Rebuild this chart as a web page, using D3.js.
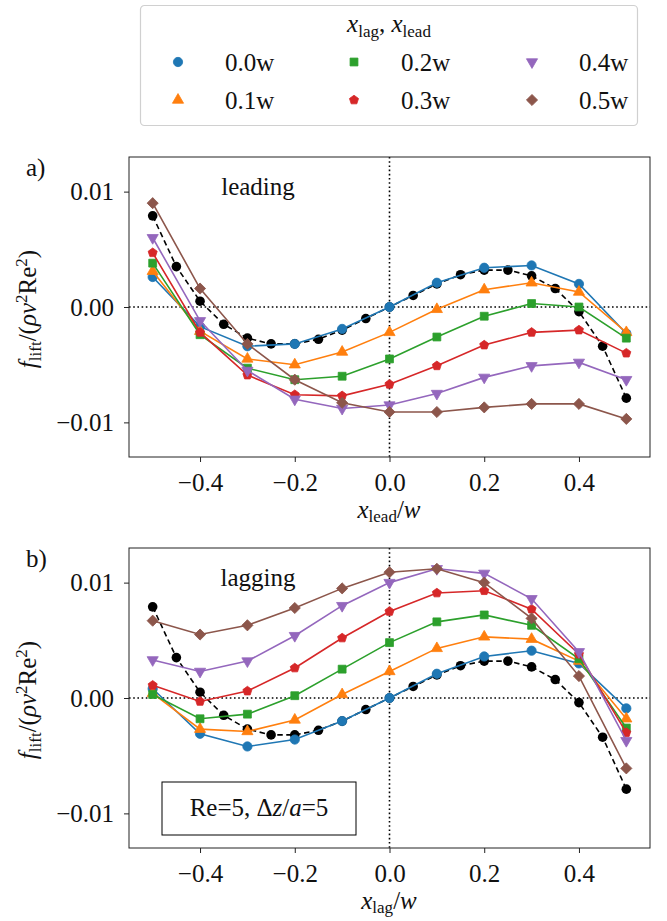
<!DOCTYPE html>
<html><head><meta charset="utf-8">
<script src="https://cdn.jsdelivr.net/npm/d3@7"></script>
<style>
body{margin:0;background:#fff}
svg{display:block}
svg text{font-family:"Liberation Serif","Times New Roman",serif !important;fill:#111}
</style>
</head><body>
<svg id="c" width="667" height="921"></svg>
<script>
// ---------- data ----------
const xPositions = [-0.5,-0.4,-0.3,-0.2,-0.1,0.0,0.1,0.2,0.3,0.4,0.5];
const refX = [-0.5,-0.45,-0.4,-0.35,-0.3,-0.25,-0.2,-0.15,-0.1,-0.05,0,0.05,0.1,0.15,0.2,0.25,0.3,0.35,0.4,0.45,0.5];
const refValues = [0.0079,0.0035,0.0005,-0.0015,-0.0027,-0.0032,-0.0032,-0.0028,-0.0020,-0.0010,0.0,0.0010,0.0020,0.0028,0.0032,0.0032,0.0027,0.0016,-0.0004,-0.0034,-0.0079];

const seriesLabels = ["0.0w","0.1w","0.2w","0.3w","0.4w","0.5w"];
const seriesColors = ["#1f77b4","#ff7f0e","#2ca02c","#d62728","#9467bd","#8c564b"];
const seriesMarkers = ["circle","triangleUp","square","pentagon","triangleDown","diamond"];

// panel a) leading
const lead00 = [0.0026,-0.0017,-0.0034,-0.0032,-0.0019,0.0,0.0021,0.0034,0.0036,0.0020,-0.0023];
const lead01 = [0.0031,-0.0021,-0.0045,-0.0050,-0.0039,-0.0022,-0.0002,0.0015,0.0021,0.0013,-0.0022];
const lead02 = [0.0038,-0.0024,-0.0053,-0.0063,-0.0060,-0.0045,-0.0026,-0.0008,0.0003,0.0000,-0.0027];
const lead03 = [0.0047,-0.0022,-0.0059,-0.0076,-0.0077,-0.0067,-0.0051,-0.0033,-0.0022,-0.0020,-0.0040];
const lead04 = [0.0060,-0.0012,-0.0055,-0.0080,-0.0088,-0.0085,-0.0075,-0.0061,-0.0051,-0.0048,-0.0063];
const lead05 = [0.0090,0.0016,-0.0032,-0.0063,-0.0083,-0.0091,-0.0091,-0.0087,-0.0084,-0.0084,-0.0097];

// panel b) lagging
const lag00 = [0.0008,-0.0031,-0.0042,-0.0036,-0.0020,0.0,0.0021,0.0036,0.0041,0.0030,-0.0009];
const lag01 = [0.0004,-0.0027,-0.0029,-0.0019,0.0003,0.0023,0.0043,0.0053,0.0051,0.0032,-0.0018];
const lag02 = [0.0003,-0.0018,-0.0014,0.0002,0.0025,0.0048,0.0066,0.0072,0.0063,0.0034,-0.0026];
const lag03 = [0.0011,-0.0003,0.0006,0.0026,0.0052,0.0075,0.0091,0.0093,0.0077,0.0038,-0.0030];
const lag04 = [0.0033,0.0023,0.0032,0.0054,0.0080,0.0100,0.0112,0.0108,0.0086,0.0040,-0.0037];
const lag05 = [0.0067,0.0055,0.0063,0.0078,0.0095,0.0109,0.0112,0.0100,0.0069,0.0019,-0.0061];

const xTicks = [-0.4,-0.2,0.0,0.2,0.4];
const xTickLabels = ["\u22120.4","\u22120.2","0.0","0.2","0.4"];
const yTicks = [-0.01,0.0,0.01];
const yTickLabels = ["\u22120.01","0.00","0.01"];

// ---------- drawing ----------
const svg = d3.select("#c");
const FS = 25;
const SUB = 17;
const SERIF = '"Liberation Serif","Times New Roman",serif';

const pentagon = {draw(ctx,size){const r=Math.sqrt(size/2.378);for(let k=0;k<5;k++){const a=-Math.PI/2+k*2*Math.PI/5;const x=r*Math.cos(a),y=r*Math.sin(a);k?ctx.lineTo(x,y):ctx.moveTo(x,y);}ctx.closePath();}};
const markerDefs = {
  circle:{type:d3.symbolCircle,size:68,rot:0},
  triangleUp:{type:d3.symbolTriangle,size:54,rot:0},
  square:{type:d3.symbolSquare,size:62,rot:0},
  pentagon:{type:pentagon,size:54,rot:0},
  triangleDown:{type:d3.symbolTriangle,size:54,rot:180},
  diamond:{type:d3.symbolSquare,size:62,rot:45}
};
function drawMarker(g,name,x,y,color){
  const m = markerDefs[name];
  g.append("path").attr("d",d3.symbol().type(m.type).size(m.size)())
   .attr("transform",`translate(${x},${y}) rotate(${m.rot})`)
   .attr("fill",color).attr("stroke",color).attr("stroke-width",0.8);
}
function txt(sel){return sel.style("font-family",SERIF);}

function panel(top, seriesList, label, annot, xname){
  const left=129,right=650,bottom=top+300;
  const x = d3.scaleLinear().domain([-0.55,0.55]).range([left,right]);
  const y = d3.scaleLinear().domain([-0.013,0.013]).range([bottom,top]);
  const g = svg.append("g");

  // zero lines
  g.append("line").attr("x1",left).attr("x2",right).attr("y1",y(0)).attr("y2",y(0))
    .attr("stroke","#000").attr("stroke-width",1.6).attr("stroke-dasharray","1.6,2.6");
  g.append("line").attr("x1",x(0)).attr("x2",x(0)).attr("y1",top).attr("y2",bottom)
    .attr("stroke","#000").attr("stroke-width",1.6).attr("stroke-dasharray","1.6,2.6");

  // reference black dashed
  const line = d3.line().x(d=>x(d[0])).y(d=>y(d[1]));
  const refPts = refX.map((v,i)=>[v,refValues[i]]);
  g.append("path").attr("d",line(refPts)).attr("fill","none").attr("stroke","#000")
    .attr("stroke-width",1.6).attr("stroke-dasharray","5.5,3.5");
  refPts.forEach(p=>g.append("circle").attr("cx",x(p[0])).attr("cy",y(p[1])).attr("r",4.8).attr("fill","#000"));

  seriesList.forEach((vals,si)=>{
    const pts = xPositions.map((v,i)=>[v,vals[i]]);
    g.append("path").attr("d",line(pts)).attr("fill","none").attr("stroke",seriesColors[si]).attr("stroke-width",1.6);
    pts.forEach(p=>drawMarker(g,seriesMarkers[si],x(p[0]),y(p[1]),seriesColors[si]));
  });

  // frame
  g.append("rect").attr("x",left).attr("y",top).attr("width",right-left).attr("height",bottom-top)
    .attr("fill","none").attr("stroke","#222").attr("stroke-width",1);

  // axes
  const xa = g.append("g").attr("transform",`translate(0,${bottom})`)
    .call(d3.axisBottom(x).tickValues(xTicks).tickSize(5).tickFormat((d,i)=>xTickLabels[i]));
  xa.select(".domain").remove();
  xa.selectAll("line").attr("stroke","#222");
  txt(xa.selectAll("text")).attr("font-size",FS).attr("fill","#111").attr("dy",null).attr("y",34);
  const ya = g.append("g").attr("transform",`translate(${left},0)`)
    .call(d3.axisLeft(y).tickValues(yTicks).tickSize(5).tickFormat((d,i)=>yTickLabels[i]));
  ya.select(".domain").remove();
  ya.selectAll("line").attr("stroke","#222");
  txt(ya.selectAll("text")).attr("font-size",FS).attr("fill","#111").attr("x",-15).attr("dy","0.33em");

  // x label
  const xl = txt(g.append("text")).attr("x",389).attr("y",bottom+61).attr("text-anchor","middle").attr("font-size",FS);
  xl.append("tspan").attr("font-style","italic").text("x");
  xl.append("tspan").attr("font-size",SUB).attr("dy",4).text(xname);
  xl.append("tspan").attr("dy",-4).text("/");
  xl.append("tspan").attr("font-style","italic").text("w");

  // y label
  const yl = txt(g.append("text")).attr("transform",`translate(36,${(top+bottom)/2+2}) rotate(-90)`)
    .attr("text-anchor","middle").attr("font-size",FS);
  yl.append("tspan").attr("font-style","italic").text("f");
  yl.append("tspan").attr("font-size",SUB).attr("dy",5).text("lift");
  yl.append("tspan").attr("dy",-5).text("/(");
  yl.append("tspan").attr("font-style","italic").text("\u03C1\u03BD");
  yl.append("tspan").attr("font-size",SUB).attr("dy",-9).text("2");
  yl.append("tspan").attr("dy",9).text("Re");
  yl.append("tspan").attr("font-size",SUB).attr("dy",-9).text("2");
  yl.append("tspan").attr("dy",9).text(")");

  // panel letter
  txt(g.append("text")).attr("x",26).attr("y",top+19).attr("font-size",FS).text(label);
  // annotation
  txt(g.append("text")).attr("x",258).attr("y",top+38).attr("text-anchor","middle").attr("font-size",FS).text(annot);
  return {x,y,g,left,top,bottom};
}

const pa = panel(157,[lead00,lead01,lead02,lead03,lead04,lead05],"a)","leading","lead");
const pb = panel(548,[lag00,lag01,lag02,lag03,lag04,lag05],"b)","lagging","lag");

// Re box
pb.g.append("rect").attr("x",162).attr("y",782).attr("width",194).attr("height",53)
  .attr("fill","#fff").attr("stroke","#000").attr("stroke-width",1);
const bt = txt(pb.g.append("text")).attr("x",259).attr("y",816).attr("text-anchor","middle").attr("font-size",FS);
bt.append("tspan").text("Re=5, \u0394");
bt.append("tspan").attr("font-style","italic").text("z");
bt.append("tspan").text("/");
bt.append("tspan").attr("font-style","italic").text("a");
bt.append("tspan").text("=5");

// legend
const lg = svg.append("g");
lg.append("rect").attr("x",140.5).attr("y",5.5).attr("width",497).attr("height",120).attr("rx",4)
  .attr("fill","#fff").attr("stroke","#d0d0d0").attr("stroke-width",1.2);
const lt = txt(lg.append("text")).attr("x",389).attr("y",32).attr("text-anchor","middle").attr("font-size",FS);
lt.append("tspan").attr("font-style","italic").text("x");
lt.append("tspan").attr("font-size",SUB).attr("dy",5).text("lag");
lt.append("tspan").attr("dy",-5).text(", ");
lt.append("tspan").attr("font-style","italic").text("x");
lt.append("tspan").attr("font-size",SUB).attr("dy",5).text("lead");
const colX = [178,354,532];
const rowY = [62,100];
seriesLabels.forEach((lab,i)=>{
  const c = Math.floor(i/2), r = i%2;
  drawMarker(lg,seriesMarkers[i],colX[c],rowY[r],seriesColors[i]);
  txt(lg.append("text")).attr("x",colX[c]+47).attr("y",rowY[r]+9).attr("font-size",FS).text(lab);
});
</script>
</body></html>
